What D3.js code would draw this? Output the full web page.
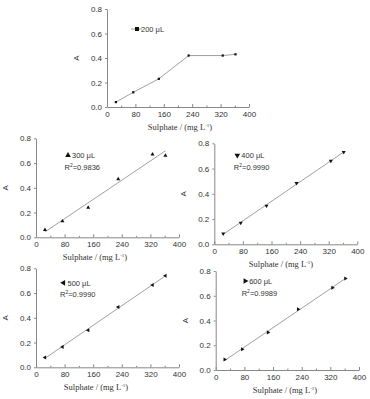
<!DOCTYPE html>
<html>
<head>
<meta charset="utf-8">
<script src="https://cdn.jsdelivr.net/npm/d3@7"></script>
<style>
  body { margin: 0; background: #fff; }
  svg { display: block; }
  .tick text { font-family: "Liberation Sans", Arial, sans-serif; font-size: 8px; fill: #333; }
  .domain, .tick line { stroke: #888; }
</style>
</head>
<body>
<svg width="370" height="399"></svg>
<script>
// sulphate concentration (mg L-1)
const conc = [25, 74, 146, 230, 326, 362];
// absorbance for each sample volume
const abs200 = [0.04, 0.12, 0.23, 0.42, 0.42, 0.43];
const abs300 = [0.06, 0.13, 0.24, 0.47, 0.67, 0.66];
const abs400 = [0.085, 0.17, 0.305, 0.485, 0.66, 0.73];
const abs500 = [0.08, 0.165, 0.30, 0.488, 0.665, 0.74];
const abs600 = [0.085, 0.167, 0.304, 0.49, 0.665, 0.74];
const volumes = ["200 μL", "300 μL", "400 μL", "500 μL", "600 μL"];
const r2Labels = [null, "0.9836", "0.9990", "0.9990", "0.9989"];
const xTicks = [0, 80, 160, 240, 320, 400];
const yTicks = [0.0, 0.2, 0.4, 0.6, 0.8];

const svg = d3.select("svg");

// layout of the five panels (plot area box, legend spot, title centre)
const panels = [
  { ys: abs200, sym: d3.symbolSquare, rot: 0, fit: false,
    l: 107, r: 249, t: 9, b: 107, lx: 30, ly: 20, tx: 180 },
  { ys: abs300, sym: d3.symbolTriangle, rot: 0, fit: true,
    l: 36, r: 179, t: 138.3, b: 237.3, lx: 32, ly: 17, tx: 95 },
  { ys: abs400, sym: d3.symbolTriangle, rot: 180, fit: true,
    l: 214.3, r: 357.3, t: 143.3, b: 244.3, lx: 23, ly: 12, tx: 281 },
  { ys: abs500, sym: d3.symbolTriangle, rot: -90, fit: true,
    l: 36, r: 179, t: 268.3, b: 367.3, lx: 27.5, ly: 14.5, tx: 96 },
  { ys: abs600, sym: d3.symbolTriangle, rot: 90, fit: true,
    l: 215.7, r: 359, t: 271, b: 370, lx: 29.5, ly: 10, tx: 285 }
];

const fitLine = (xs, ys) => {
  const mx = d3.mean(xs), my = d3.mean(ys);
  const slope = d3.sum(xs, (x, i) => (x - mx) * (ys[i] - my)) /
    d3.sum(xs, (x) => (x - mx) * (x - mx));
  return [slope, my - slope * mx];
};

panels.forEach((p, i) => {
  const x = d3.scaleLinear().domain([0, 400]).range([p.l, p.r]);
  const y = d3.scaleLinear().domain([0, 0.8]).range([p.b, p.t]);
  const g = svg.append("g");

  // minor ticks
  g.append("g")
    .attr("transform", `translate(0,${p.b})`)
    .call(d3.axisBottom(x).tickValues(d3.range(40, 400, 80)).tickSize(-1.5).tickFormat(""))
    .call((a) => a.select(".domain").remove());
  g.append("g")
    .attr("transform", `translate(0,${p.b})`)
    .call(d3.axisBottom(x).tickValues(xTicks).tickSize(-3).tickSizeOuter(0).tickPadding(4));
  g.append("g")
    .attr("transform", `translate(${p.l},0)`)
    .call(d3.axisLeft(y).tickValues(yTicks).tickSize(2).tickSizeOuter(0).tickPadding(3).tickFormat(d3.format(".1f")));

  // axis titles
  const title = g.append("text")
    .attr("x", p.tx)
    .attr("y", p.b + 23)
    .attr("text-anchor", "middle")
    .style("font-family", "'Liberation Serif', 'Times New Roman', serif")
    .style("font-size", "8.5px")
    .style("fill", "#333");
  title.append("tspan").text("Sulphate /  (mg L");
  title.append("tspan").attr("dy", -3).style("font-size", "5px").text("-1");
  title.append("tspan").attr("dy", 3).text(")");
  g.append("text")
    .attr("transform", `translate(${p.l - 28},${(p.t + p.b) / 2}) rotate(-90)`)
    .attr("text-anchor", "middle")
    .style("font-family", "'Liberation Sans', Arial, sans-serif")
    .style("font-size", "8px")
    .style("fill", "#333")
    .text("A");

  const pts = conc.map((c, k) => [c, p.ys[k]]);

  if (p.fit) {
    const [m, c0] = fitLine(conc, p.ys);
    const ends = [d3.min(conc), d3.max(conc)];
    g.append("line")
      .attr("x1", x(ends[0])).attr("y1", y(m * ends[0] + c0))
      .attr("x2", x(ends[1])).attr("y2", y(m * ends[1] + c0))
      .attr("stroke", "#888").attr("stroke-width", 0.8);
  } else {
    g.append("path")
      .datum(pts)
      .attr("d", d3.line().x((d) => x(d[0])).y((d) => y(d[1])))
      .attr("fill", "none").attr("stroke", "#888").attr("stroke-width", 0.8);
  }

  const sym = d3.symbol().type(p.sym).size(p.fit ? 7 : 5);
  g.selectAll(".pt").data(pts).enter().append("path")
    .attr("class", "pt")
    .attr("d", sym)
    .attr("transform", (d) => `translate(${x(d[0])},${y(d[1])}) rotate(${p.rot})`)
    .attr("fill", "#111");

  // legend
  const lx = p.l + p.lx, ly = p.t + p.ly;
  if (!p.fit) {
    g.append("line").attr("x1", lx - 6).attr("x2", lx + 5).attr("y1", ly).attr("y2", ly)
      .attr("stroke", "#888").attr("stroke-width", 0.8);
  }
  g.append("path")
    .attr("d", d3.symbol().type(p.sym).size(p.fit ? 14 : 16))
    .attr("transform", `translate(${lx},${ly}) rotate(${p.rot})`)
    .attr("fill", "#111");
  g.append("text")
    .attr("x", lx + 4).attr("y", ly + 2.8)
    .style("font-family", "'Liberation Sans', Arial, sans-serif")
    .style("font-size", "7.5px").style("fill", "#333")
    .text(volumes[i]);
  if (r2Labels[i]) {
    const t = g.append("text")
      .attr("x", lx - 3.5).attr("y", ly + 14.5)
      .style("font-family", "'Liberation Sans', Arial, sans-serif")
      .style("font-size", "7.5px").style("fill", "#333");
    t.append("tspan").text("R");
    t.append("tspan").attr("dy", -3).style("font-size", "5px").text("2");
    t.append("tspan").attr("dy", 3).text("=" + r2Labels[i]);
  }
});
</script>
</body>
</html>
